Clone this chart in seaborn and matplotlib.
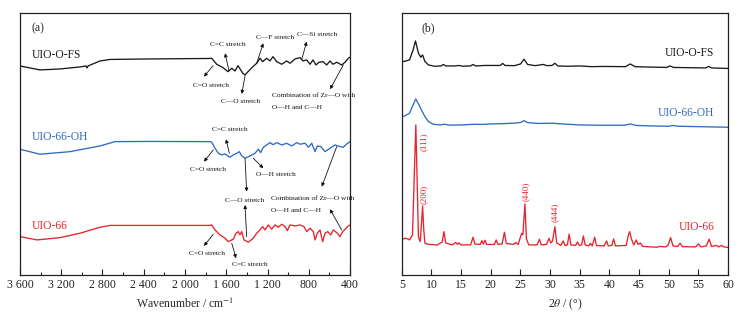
import numpy as np
import matplotlib
matplotlib.use("Agg")
import matplotlib.pyplot as plt
from matplotlib.ticker import MultipleLocator, FuncFormatter
import seaborn as sns

sns.set_style("ticks")
plt.rcParams['font.family'] = ['Liberation Serif', 'DejaVu Serif']
plt.rcParams['mathtext.fontset'] = 'stix'

BLACK, BLUE, RED = '#1a1a1a', '#2f6cc0', '#e5242c'

# ── (a) FTIR spectra: wavenumber (cm-1) / offset transmittance (a.u.) ──
ir_fs_x = [3600, 3406, 3212, 3018, 2960, 2950, 2940, 2824, 2727, 2339, 1757,
           1741, 1693, 1632, 1583, 1547, 1515, 1486, 1460, 1440, 1418, 1389,
           1341, 1305, 1273, 1247, 1208, 1176, 1147, 1111, 1062, 1014, 982,
           933, 885, 856, 820, 788, 759, 730, 701, 662, 626, 594, 565, 529,
           481, 448, 416, 400]
ir_fs_y = [209, 205, 206, 208, 209, 207, 209, 214, 215.5, 216, 216.5,
           216.7, 210.7, 207.3, 203.3, 206.7, 204, 209.3, 205, 201.7, 200, 203.3,
           208.3, 211.7, 216.7, 213.3, 216.7, 214, 218.3, 213.3, 210.7, 214, 211.7,
           216, 217.3, 214, 215, 210.7, 215, 210, 212.7, 213.3, 210, 214, 210.7, 212.7,
           210, 212.7, 216.7, 217.7]

ir_oh_x = [3600, 3406, 3115, 2824, 2679, 2339, 1757, 1741, 1709, 1677, 1644,
           1612, 1564, 1532, 1499, 1473, 1450, 1418, 1370, 1321, 1289, 1266,
           1241, 1208, 1176, 1144, 1111, 1062, 1014, 965, 917, 885, 836, 804,
           771, 739, 717, 684, 642, 594, 545, 497, 465, 432, 400]
ir_oh_y = [125.7, 120.7, 123.3, 129, 133.3, 133.5, 133.3, 132.7, 126.7, 121.7, 120,
           121, 117.7, 120, 121.7, 123.3, 119, 116.7, 119, 121.7, 125.7, 122.3,
           127.7, 130, 132.3, 130.3, 132.3, 130, 131.7, 129, 132.3, 130.7, 131.7, 127.7,
           131.7, 123.3, 129, 128.3, 123.3, 126.7, 130, 128.3, 127.7, 131, 133.3]

ir_66_x = [3600, 3435, 3212, 3018, 2824, 2727, 1757, 1741, 1709, 1661, 1612,
           1580, 1532, 1505, 1483, 1467, 1450, 1428, 1386, 1338, 1305, 1273,
           1247, 1224, 1192, 1159, 1127, 1095, 1062, 1030, 1008, 982, 933, 885,
           846, 820, 788, 756, 739, 717, 691, 665, 642, 616, 587, 562, 523, 497,
           471, 448, 416, 400]
ir_66_y = [38.3, 35, 37.3, 41.7, 47.7, 49.5, 49.5, 50, 45, 40, 36.7,
           33.3, 35.7, 41.7, 43.3, 40, 43.3, 35, 32.7, 36.7, 41.7, 45,
           48.3, 45, 50, 45.7, 50, 47.7, 50.7, 48.3, 44.3, 50, 49, 50,
           48.3, 43.3, 46.7, 43.3, 35, 41.7, 45, 33.3, 41.7, 43.3, 40, 45, 41.7, 38.3,
           43.3, 45.7, 49, 50]

# ── (b) XRD patterns: 2theta (deg) / offset intensity (a.u.) ──
xrd_fs_x = [5.0, 5.5, 6.3, 6.9, 7.3, 7.8, 8.2, 8.5, 8.9, 9.5, 10.5, 11.6, 12.0,
            12.4, 14.0, 14.6, 15.2, 16.6, 17.0, 17.4, 19.0, 20.0, 21.6, 22.0,
            22.4, 24.0, 25.0, 25.6, 26.2, 27.5, 28.8, 29.5, 30.3, 30.8, 31.3,
            33.0, 35.0, 37.0, 39.0, 42.7, 43.5, 44.3, 46.0, 49.6, 50.2, 50.8,
            53.0, 56.2, 56.7, 57.2, 60.0]
xrd_fs_y = [213, 213.7, 215, 225, 234, 221.7, 217.7, 220, 213.3, 210, 208.7, 209, 210.5,
            209, 209, 209.5, 208.8, 209, 210.5, 209, 209.5, 209.5, 209.5, 211.5,
            209.5, 209.3, 211, 215.7, 210.5, 209.3, 210.5, 209.3, 209.5, 211.7, 209,
            208.7, 209, 208.3, 208.5, 208.3, 211, 208.3, 208, 207.5, 209, 207.5,
            207.3, 207, 208.5, 207, 206.5]

xrd_oh_x = [5.0, 5.5, 6.3, 6.9, 7.35, 7.9, 8.3, 8.9, 9.5, 10.3, 11.5, 12.2, 13.0,
            15.0, 17.3, 18.5, 20.0, 22.0, 24.0, 25.0, 25.6, 26.2, 28.0, 30.5,
            32.0, 35.0, 38.0, 42.5, 43.5, 44.5, 47.0, 50.0, 50.7, 51.5, 55.0, 60.0]
xrd_oh_y = [158.3, 159, 161.7, 170, 176, 170, 165, 158.3, 153.3, 150.7, 150, 150.7, 149.8,
            150, 150.7, 150.5, 151, 151.3, 151.8, 152.5, 154.3, 152.3, 151.5, 151.7,
            151, 150, 149.7, 149.7, 151, 149.5, 149, 148.7, 149.5, 148.7, 148.3, 147.7]

xrd_66_x = [5.0, 5.6, 6.0, 6.3, 6.8, 7.1, 7.36, 7.6, 7.8, 8.1, 8.3, 8.5, 8.7, 8.9,
            9.5, 11.0, 11.8, 12.1, 12.4, 13.5, 14.1, 14.4, 14.6, 15.0, 16.6, 17.0,
            17.3, 18.2, 18.5, 18.75, 19.0, 19.3, 20.6, 20.9, 21.2, 21.9, 22.3, 22.6,
            23.8, 24.2, 24.6, 25.2, 25.4, 25.75, 26.0, 26.4, 27.8, 28.2, 28.5, 29.4,
            29.8, 30.1, 30.4, 30.8, 31.1, 31.8, 32.2, 32.5, 32.9, 33.2, 33.5, 34.3,
            34.6, 34.9, 35.3, 35.6, 35.9, 36.5, 36.8, 37.1, 37.5, 37.8, 39.1, 39.5,
            39.8, 40.4, 40.7, 41.0, 42.8, 43.2, 43.4, 43.7, 44.1, 44.5, 44.8, 45.2,
            45.6, 47.0, 48.0, 48.5, 49.5, 49.9, 50.3, 50.7, 51.5, 51.9, 52.3, 54.5,
            55.0, 55.4, 56.3, 56.8, 57.2, 58.0, 58.4, 58.9, 59.3, 60.0]
xrd_66_y = [35.7, 36.7, 36, 35, 40, 100, 150, 90, 38, 33.3, 50, 69, 45, 31.7,
            30.5, 30, 33, 43.3, 32, 30, 32.5, 30.5, 32, 30, 30, 37.7,
            31, 30.5, 34.3, 31, 34.7, 30.5, 30.5, 35, 30.5, 31, 42.7, 31.5,
            30.5, 32.3, 30.5, 41.7, 40, 71, 36, 30, 30, 35.7, 30, 30.5,
            36.7, 32, 34, 48.3, 32, 29.5, 34, 29.5, 30, 40.7, 30, 29.5,
            33, 29.5, 30, 39, 30, 29, 31.5, 29, 37.7, 29.5, 29, 34,
            29, 29.5, 36, 29, 29.5, 40, 43.3, 36, 30, 35, 30.5, 32,
            28.5, 28, 27.7, 28.5, 28, 30, 37.3, 29, 28.5, 31.7, 28.3, 28,
            31, 28, 29, 35.7, 28.5, 29.5, 28, 29.5, 28, 27.5]

fig = plt.figure(figsize=(7.4, 3.16), dpi=100)
ax1 = fig.add_axes([0.027, 0.13, 0.446, 0.829])
ax2 = fig.add_axes([0.543, 0.13, 0.441, 0.829])

LW = 0.95
for x, y, c in [(ir_fs_x, ir_fs_y, BLACK), (ir_oh_x, ir_oh_y, BLUE), (ir_66_x, ir_66_y, RED)]:
    sns.lineplot(x=x, y=y, ax=ax1, color=c, lw=LW, estimator=None, sort=False)
for x, y, c in [(xrd_fs_x, xrd_fs_y, BLACK), (xrd_oh_x, xrd_oh_y, BLUE), (xrd_66_x, xrd_66_y, RED)]:
    sns.lineplot(x=x, y=y, ax=ax2, color=c, lw=LW, estimator=None, sort=False)

# ── axes styling ──
for ax in (ax1, ax2):
    ax.set_ylim(0, 262)
    ax.set_yticks([])
    ax.set_ylabel('')
    for s in ax.spines.values():
        s.set_linewidth(0.9)
        s.set_color('#222222')
    ax.tick_params(axis='x', which='major', direction='in', length=4, width=0.8,
                   labelsize=8.5, pad=3, colors='#222222')
    ax.tick_params(axis='x', which='minor', direction='in', length=2, width=0.8,
                   colors='#222222')

ax1.set_xlim(3600, 400)
ax1.xaxis.set_major_locator(MultipleLocator(400))
ax1.xaxis.set_minor_locator(MultipleLocator(200))
ax1.xaxis.set_major_formatter(FuncFormatter(lambda v, p: f"{int(v):,}".replace(",", " ")))
ax1.set_xlabel('Wavenumber / cm$^{-1}$', fontsize=8.5, labelpad=4)

ax2.set_xlim(5, 60)
ax2.xaxis.set_major_locator(MultipleLocator(5))
ax2.set_xlabel(r'2$\theta$ / (°)', fontsize=8.5, labelpad=4)

# ── labels ──
ax1.text(3487, 246.7, '(a)', fontsize=8.5, va='center', ha='left')
ax2.text(9.44, 246.7, '(b)', fontsize=8.5, va='center', ha='center')

for y, lab, c in [(220, 'UIO-O-FS', BLACK), (138.3, 'UIO-66-OH', BLUE), (49, 'UIO-66', RED)]:
    ax1.text(3487, y, lab, color=c, fontsize=8.3, va='center', ha='left')
for y, lab, c in [(221.7, 'UIO-O-FS', BLACK), (162.3, 'UIO-66-OH', BLUE), (48.3, 'UIO-66', RED)]:
    ax2.text(57.64, y, lab, color=c, fontsize=8.3, va='center', ha='right')

for x, y, lab in [(8.76, 133.3, '(111)'), (8.76, 81, '(200)'), (25.92, 83.3, '(440)'), (30.86, 62.3, '(444)')]:
    ax2.text(x, y, lab, color=RED, fontsize=6.5, rotation=90, va='center', ha='center')

# ── FTIR band annotations: (text x, text y, label, ha) and arrows (tail -> head) ──
FS = 5.3
notes = [(1583, 230.3, 'C=C stretch', 'center'), (1751, 189, 'C=O stretch', 'center'),
         (1457, 173.3, 'C—O stretch', 'center'), (1127, 237.7, 'C—F stretch', 'center'),
         (717, 240.7, 'C—Si stretch', 'center'),
         (1159, 179, 'Combination of Zr—O with', 'left'), (1159, 167.3, 'O—H and C—H', 'left'),
         (1564, 145.7, 'C=C stretch', 'center'), (1774, 105, 'C=O stretch', 'center'),
         (1118, 100.3, 'O—H stretch', 'center'), (1425, 74.3, 'C—O stretch', 'center'),
         (1169, 76, 'Combination of Zr—O with', 'left'), (1169, 64.3, 'O—H and C—H', 'left'),
         (1784, 21, 'C=O stretch', 'center'), (1370, 10, 'C=C stretch', 'center')]
for x, y, t, ha in notes:
    ax1.text(x, y, t, fontsize=FS, va='center', ha=ha, color='#111111')

arrows = [((1573, 204), (1612, 221.7)), ((1728, 209.3), (1816, 198.3)),
          ((1418, 199), (1450, 181)), ((1305, 211.7), (1241, 231.7)),
          ((868, 215.7), (820, 233.3)), ((465, 210), (594, 185.7)),
          ((1570, 121.7), (1602, 135.7)), ((1726, 125), (1816, 113.3)),
          ((1338, 116.7), (1241, 106.7)), ((1418, 116.7), (1402, 83.3)),
          ((1402, 38.3), (1418, 70)), ((529, 128.3), (674, 88.3)),
          ((481, 45), (594, 65.7)), ((1726, 40.7), (1816, 29)),
          ((1547, 31.7), (1505, 16.7))]
for tail, head in arrows:
    ax1.annotate('', xy=head, xytext=tail,
                 arrowprops=dict(arrowstyle='-|>', color='#111111', lw=0.6,
                                 mutation_scale=5, shrinkA=0, shrinkB=0))

plt.savefig("out.png", dpi=100)
